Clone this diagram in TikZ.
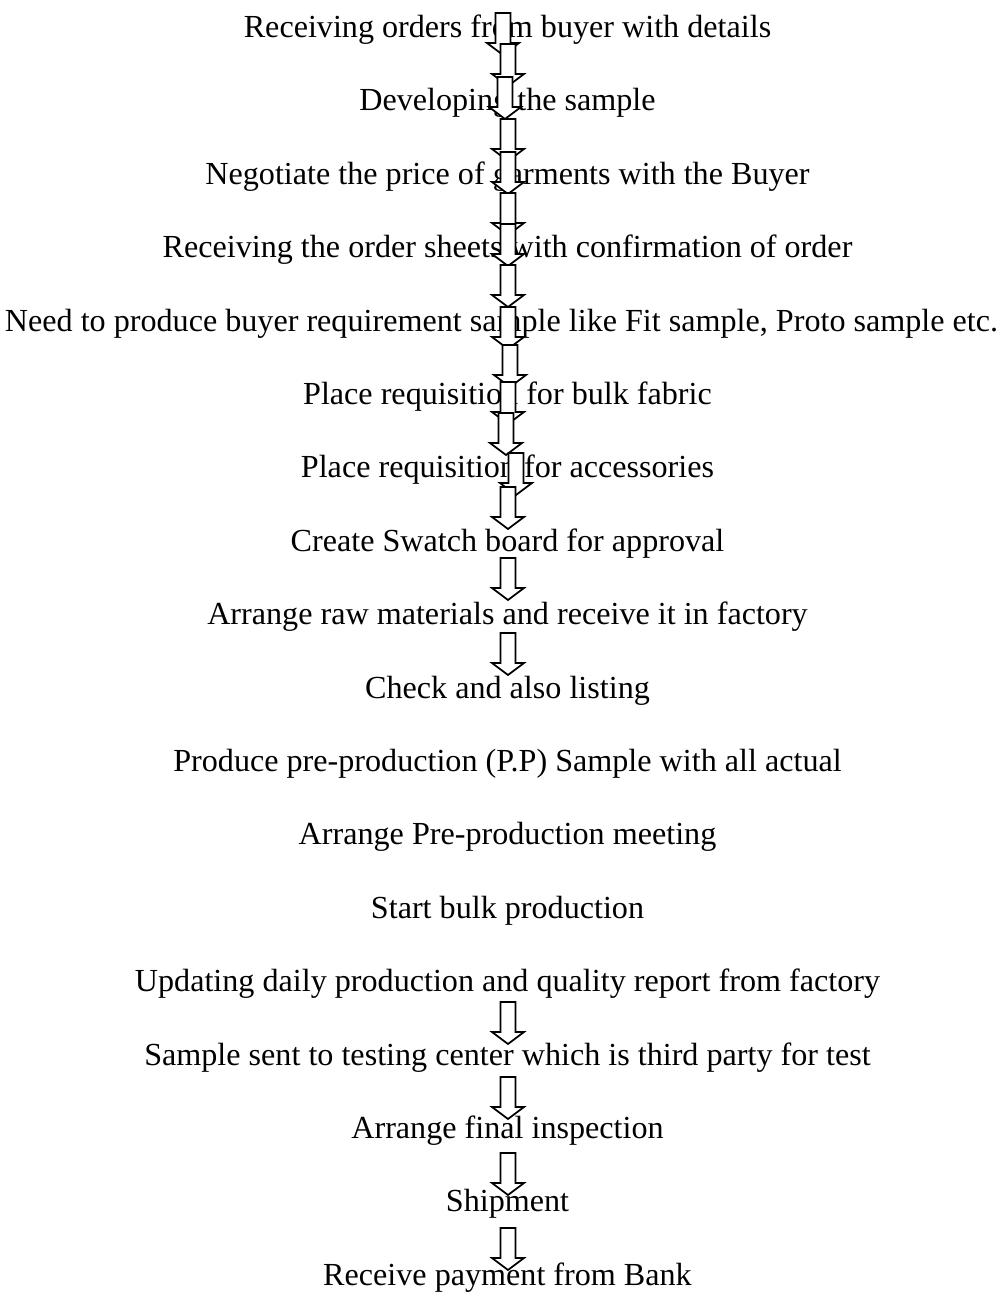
\documentclass[tikz,border=0pt]{standalone}
\usepackage{fontspec}
\setmainfont{Liberation Serif}
\tikzset{
  flowtext/.style={anchor=base, inner sep=0pt, font=\fontsize{24.1}{28}\selectfont},
  blockarrow/.pic={
    \draw[line width=1.3pt, fill=white] (-7.5,0) -- (-7.5,30) -- (-16,30) -- (0,42) -- (16,30) -- (7.5,30) -- (7.5,0) -- cycle;
  }
}
\begin{document}
\begin{tikzpicture}[x=0.75pt,y=-0.75pt]
    \useasboundingbox (0,0) rectangle (1005,1293);

    % the steps, one line each
    \node[flowtext] (orders) at (507.5,37.5) {Receiving orders from buyer with details};
    \node[flowtext] (develop) at (507.5,110.9) {Developing the sample};
    \node[flowtext] (negotiate) at (507.5,184.3) {Negotiate the price of garments with the Buyer};
    \node[flowtext] (sheets) at (507.5,257.7) {Receiving the order sheets with confirmation of order};
    \node[flowtext] (need) at (501.5,331.1) {Need to produce buyer requirement sample like Fit sample, Proto sample etc.};
    \node[flowtext] (fabric) at (507.5,404.5) {Place requisition for bulk fabric};
    \node[flowtext] (access) at (507.5,477.9) {Place requisition for accessories};
    \node[flowtext] (swatch) at (507.5,551.3) {Create Swatch board for approval};
    \node[flowtext] (raw) at (507.5,624.7) {Arrange raw materials and receive it in factory};
    \node[flowtext] (check) at (507.5,698.1) {Check and also listing};
    \node[flowtext] (ppsample) at (507.5,771.5) {Produce pre-production (P.P) Sample with all actual};
    \node[flowtext] (ppmeet) at (507.5,844.9) {Arrange Pre-production meeting};
    \node[flowtext] (bulk) at (507.5,918.3) {Start bulk production};
    \node[flowtext] (daily) at (507.5,991.7) {Updating daily production and quality report from factory};
    \node[flowtext] (testing) at (507.5,1065.1) {Sample sent to testing center which is third party for test};
    \node[flowtext] (final) at (507.5,1138.5) {Arrange final inspection};
    \node[flowtext] (ship) at (507.5,1211.9) {Shipment};
    \node[flowtext] (payment) at (507.5,1285.3) {Receive payment from Bank};

    % block arrows, stacked at the top
    \pic (a1) at (503,13) {blockarrow};
    \pic (a2) at (508,44) {blockarrow};
    \pic (a3) at (505,77) {blockarrow};
    \pic (a4) at (508,119) {blockarrow};
    \pic (a5) at (508,152) {blockarrow};
    \pic (a6) at (508,193) {blockarrow};
    \pic (a7) at (508,224) {blockarrow};
    \pic (a8) at (508,265) {blockarrow};
    \pic (a9) at (508,307) {blockarrow};
    \pic (a10) at (510,345) {blockarrow};
    \pic (a11) at (508,382) {blockarrow};
    \pic (a12) at (506,413) {blockarrow};
    \pic (a13) at (516,453) {blockarrow};
    \pic (a14) at (508,487) {blockarrow};

    \pic (a15) at (508,558) {blockarrow};
    \pic (a16) at (508,633) {blockarrow};

    \pic (a17) at (508,1002) {blockarrow};
    \pic (a18) at (508,1077) {blockarrow};
    \pic (a19) at (508,1153) {blockarrow};
    \pic (a20) at (508,1228) {blockarrow};
\end{tikzpicture}
\end{document}
